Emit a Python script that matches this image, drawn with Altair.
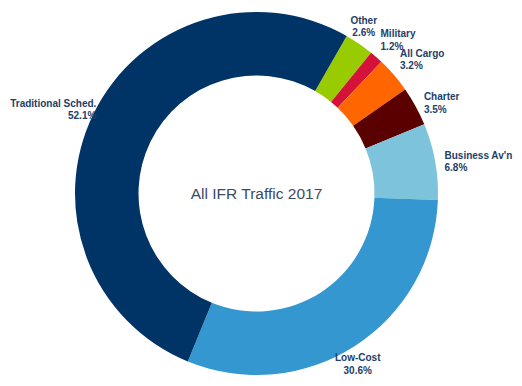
import math
import altair as alt
import pandas as pd

categories = ["Other", "Military", "All Cargo", "Charter", "Business Av'n", "Low-Cost", "Traditional Sched."]
shares = [2.6, 1.2, 3.2, 3.5, 6.8, 30.6, 52.1]
colors = ["#99CC00", "#D5133A", "#FF6600", "#5A0000", "#7DC3DC", "#3597CF", "#003366"]
title_text = "All IFR Traffic 2017"

df = pd.DataFrame({"cat": categories, "value": shares, "ord": list(range(len(categories)))})

start = 0.52
theta_scale = alt.Scale(domain=[0, 100], range=[start, start + 2 * math.pi])
color_scale = alt.Scale(domain=categories, range=colors)
FONT = "Liberation Sans"
LABEL_COLOR = "#22406A"

W, H = 481, 371

base = alt.Chart(df).transform_window(
    cum="sum(value)", sort=[alt.SortField("ord")], frame=[None, 0]
).transform_calculate(
    st="datum.cum - datum.value",
    mid="datum.cum - datum.value / 2",
    label="[datum.cat, format(datum.value, '.1f') + '%']",
)

arcs = base.mark_arc(outerRadius=181.5, innerRadius=118).encode(
    theta=alt.Theta("st:Q", scale=theta_scale),
    theta2="cum:Q",
    color=alt.Color("cat:N", scale=color_scale, legend=None),
)

def labels(names, align, r, dx, dy):
    return base.transform_filter(
        alt.FieldOneOfPredicate(field="cat", oneOf=names)
    ).mark_text(
        radius=r, align=align, baseline="middle", font=FONT, fontSize=10,
        fontWeight="bold", color=LABEL_COLOR, lineHeight=12.5, dx=dx, dy=dy,
    ).encode(
        theta=alt.Theta("mid:Q", scale=theta_scale),
        text=alt.Text("label:N"),
    )

label_layers = [
    labels(["Other"], "center", 200, -6, -8),
    labels(["Military", "All Cargo"], "left", 200, -8, -9),
    labels(["Charter", "Business Av'n"], "left", 192, -1, -4),
    labels(["Low-Cost"], "center", 194, -4, 2),
    labels(["Traditional Sched."], "right", 186, 7, -8),
]

center_title = alt.Chart(pd.DataFrame({"t": [title_text]})).mark_text(
    font=FONT, fontSize=15.5, color="#3A4A68", baseline="middle", align="center"
).encode(
    text="t:N",
    x=alt.value(W / 2),
    y=alt.value(H / 2),
)

chart = alt.layer(arcs, *label_layers, center_title).properties(
    width=W, height=H,
    autosize=alt.AutoSizeParams(type="none"),
    padding={"left": 8, "top": 0, "right": 17, "bottom": 0},
).configure_view(stroke=None)

chart.save("out.html", embed_options={"renderer": "svg", "actions": False})
